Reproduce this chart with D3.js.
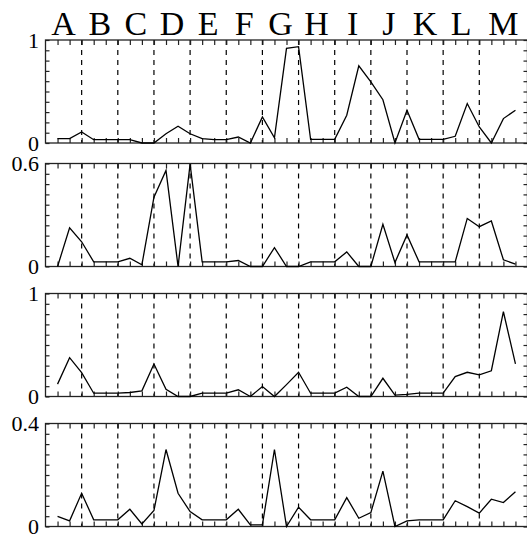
<!DOCTYPE html>
<html><head><meta charset="utf-8">
<script src="https://cdn.jsdelivr.net/npm/d3@7"></script>
<style>body{margin:0;background:#fff} svg{display:block}</style>
</head><body><svg id="c" width="527" height="535"></svg>
<script>
const groups = ["A","B","C","D","E","F","G","H","I","J","K","L","M"];
const groupBounds = [0,3,6,9,12,15,18,21,24,27,30,33,36,40];
const positions = d3.range(1, 40);
const series1 = [0.042,0.042,0.107,0.032,0.032,0.032,0.032,0,0,0.09,0.162,0.09,0.042,0.032,0.032,0.058,0,0.253,0.05,0.919,0.935,0.036,0.036,0.036,0.27,0.75,0.594,0.42,0,0.318,0.036,0.036,0.036,0.065,0.383,0.156,0,0.237,0.318];
const series2 = [0,0.225,0.144,0.027,0.027,0.027,0.048,0.01,0.404,0.56,0,0.596,0.027,0.027,0.027,0.035,0,0,0.11,0,0,0.027,0.027,0.027,0.085,0,0,0.246,0.023,0.184,0.027,0.027,0.027,0.027,0.28,0.232,0.265,0.039,0.014];
const series3 = [0.12,0.377,0.232,0.032,0.032,0.032,0.039,0.055,0.316,0.071,0,0,0.032,0.032,0.032,0.065,0,0.097,0,0.115,0.235,0.032,0.032,0.032,0.09,0,0,0.177,0.013,0.02,0.032,0.032,0.032,0.194,0.235,0.21,0.25,0.823,0.316];
const series4 = [0.039,0.022,0.129,0.026,0.026,0.026,0.067,0.01,0.062,0.299,0.129,0.058,0.026,0.026,0.026,0.067,0.006,0.006,0.299,0,0.075,0.026,0.026,0.026,0.112,0.032,0.054,0.215,0,0.022,0.026,0.026,0.026,0.10,0.077,0.052,0.106,0.093,0.135];
const yMax = [1, 0.6, 1, 0.4];
const yTickLabels = [["0","1"],["0","0.6"],["0","1"],["0","0.4"]];
const allSeries = [series1, series2, series3, series4];

const svg = d3.select("#c");
const font = "'Liberation Serif','Times New Roman',serif";
const x = d3.scaleLinear().domain([0, 40]).range([45.5, 527.5]);
const panelTops = [40, 163.5, 293.5, 423.5];
const panelH = 103;

// group letters
svg.append("g").selectAll("text").data(groups).join("text")
  .attr("x", (d, i) => x((groupBounds[i] + groupBounds[i + 1]) / 2))
  .attr("y", 35)
  .attr("text-anchor", "middle")
  .style("font-family", font)
  .style("font-size", "34px")
  .attr("fill", "#000")
  .text(d => d);

allSeries.forEach((vals, p) => {
  const top = panelTops[p], bot = top + panelH;
  const y = d3.scaleLinear().domain([0, yMax[p]]).range([bot, top]);
  const g = svg.append("g");
  const yt = d3.range(0, 11).map(i => yMax[p] * i / 10);

  // dashed group separators
  g.append("g").selectAll("line").data(groupBounds.slice(1, -1)).join("line")
    .attr("x1", d => x(d)).attr("x2", d => x(d))
    .attr("y1", top).attr("y2", bot)
    .attr("stroke", "#000").attr("stroke-width", 1.2)
    .attr("stroke-dasharray", "5,5");

  // inward ticks via axes
  const axT = d3.axisTop(x).tickValues(positions).tickSize(-5).tickFormat("");
  const axB = d3.axisBottom(x).tickValues(positions).tickSize(-5).tickFormat("");
  const axL = d3.axisLeft(y).tickValues(yt).tickSize(-4).tickFormat("");
  const axR = d3.axisRight(y).tickValues(yt).tickSize(-4).tickFormat("");
  [[axT, `translate(0,${top})`], [axB, `translate(0,${bot})`],
   [axL, `translate(${x(0)},0)`], [axR, `translate(${x(40)},0)`]].forEach(([ax, tr]) => {
    const a = g.append("g").attr("transform", tr).call(ax);
    a.select(".domain").remove();
    a.selectAll("line").attr("stroke", "#222").attr("stroke-width", 1.2);
  });

  // frame
  g.append("rect").attr("x", x(0)).attr("y", top)
    .attr("width", x(40) - x(0)).attr("height", panelH)
    .attr("fill", "none").attr("stroke", "#222").attr("stroke-width", 1.3);

  // data line
  g.append("path").datum(vals)
    .attr("fill", "none").attr("stroke", "#000").attr("stroke-width", 1.3)
    .attr("stroke-linejoin", "miter")
    .attr("d", d3.line().x((d, i) => x(positions[i])).y(d => y(d)));

  // y labels
  g.selectAll("text.yl").data([0, yMax[p]]).join("text")
    .attr("class", "yl")
    .attr("x", 39).attr("y", d => y(d))
    .attr("dy", "0.35em")
    .attr("text-anchor", "end")
    .style("font-family", font).style("font-size", "22px")
    .attr("fill", "#000")
    .text((d, i) => yTickLabels[p][i]);
});
</script></body></html>
